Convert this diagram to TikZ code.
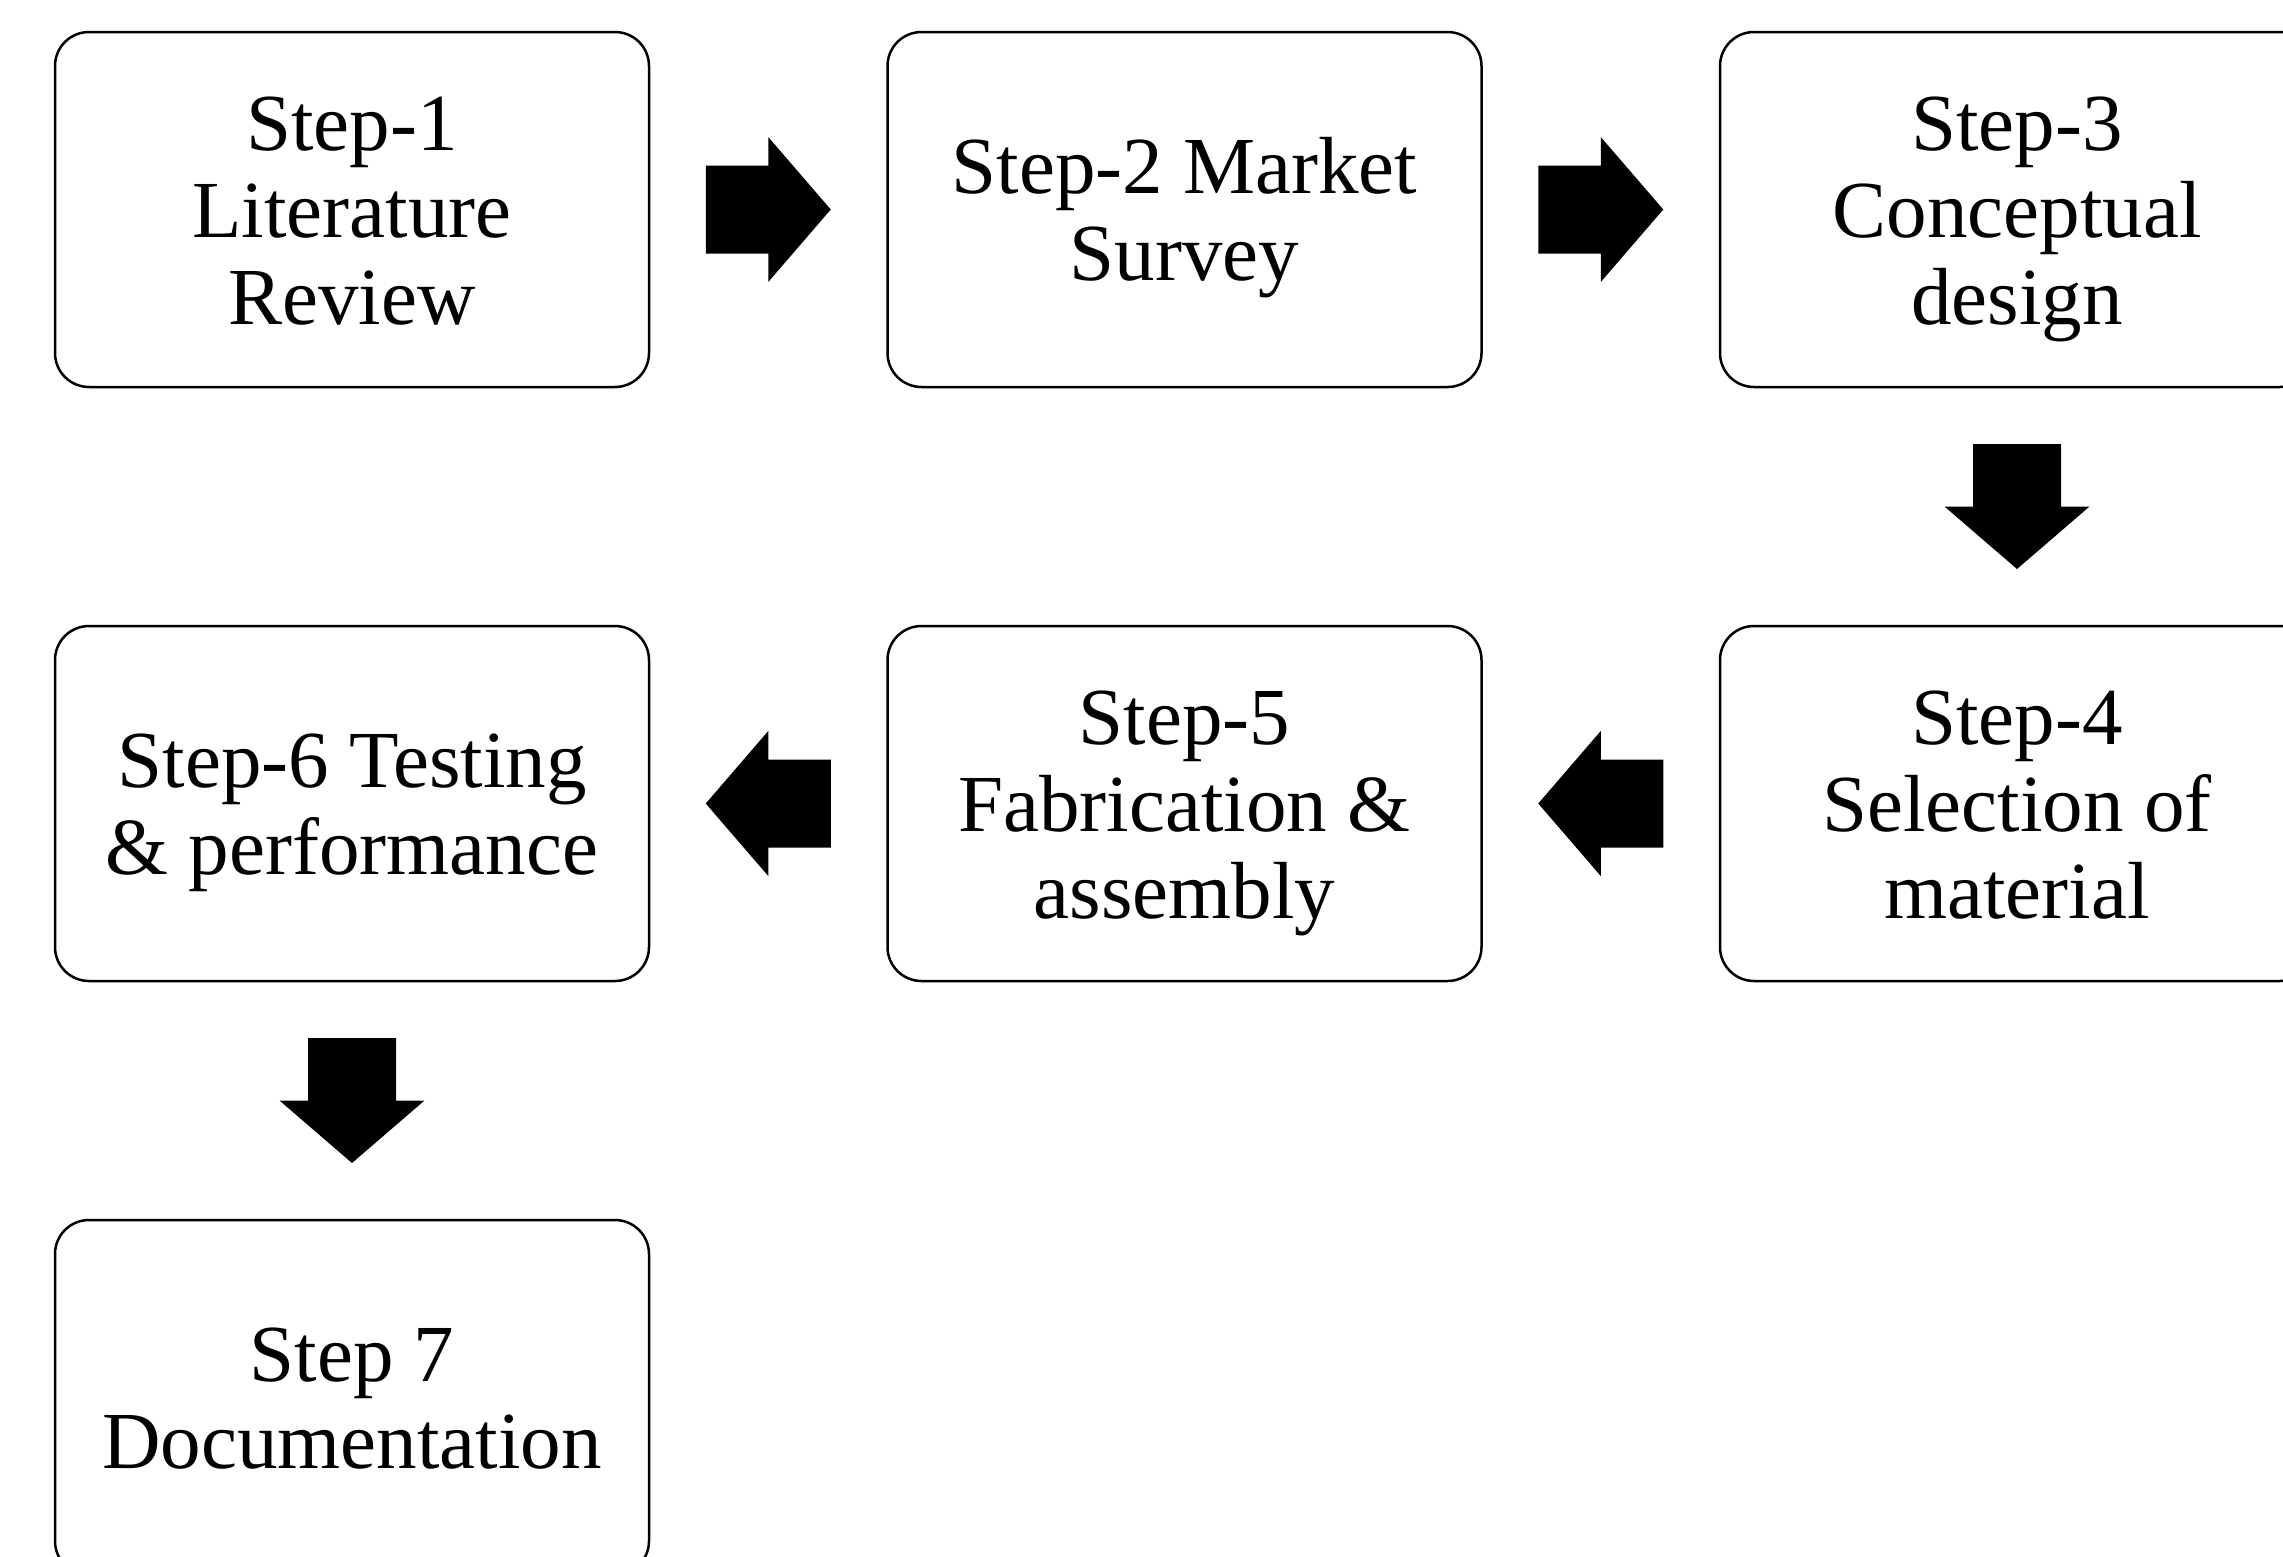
\documentclass[tikz,border=0pt]{standalone}
\usepackage{fontspec}
\setmainfont{Liberation Serif}
\usetikzlibrary{calc}
\newcommand\tstr{\rule{0pt}{75pt}}
\newcommand\bstr{\rule[-20pt]{0pt}{20pt}}
\begin{document}
\begin{tikzpicture}[x=1pt,y=1pt,
  stepbox/.style={draw, line width=2.5pt, rounded corners=34pt, minimum width=594pt, minimum height=355pt, align=center, inner sep=0pt, font=\fontsize{81}{87}\selectfont},
  blockarrow/.pic={\fill[black] (-62.5,-44) -- (0,-44) -- (0,-72.5) -- (62.5,0) -- (0,72.5) -- (0,44) -- (-62.5,44) -- cycle;}]
\useasboundingbox (0,0) rectangle (2283,-1556);
\clip (0,0) rectangle (2283,-1556);
\node[stepbox] (s1) at (352,-209.5) {\tstr Step-1\\Literature\\Review\bstr};
\node[stepbox] (s2) at (1184.5,-209.5) {\tstr Step-2 Market\\Survey\bstr};
\node[stepbox] (s3) at (2017,-209.5) {\tstr Step-3\\Conceptual\\design\bstr};
\node[stepbox] (s4) at (2017,-803.5) {\tstr Step-4\\Selection of\\material\bstr};
\node[stepbox] (s5) at (1184.5,-803.5) {\tstr Step-5\\Fabrication \&\\assembly\bstr};
\node[stepbox] (s6) at (352,-803.5) {\tstr Step-6 Testing\\\& performance\bstr};
\node[stepbox] (s7) at (352,-1397.5) {\tstr Step 7\\Documentation\bstr};
\pic at ($(s1.east)!0.5!(s2.west)$) {blockarrow};
\pic at ($(s2.east)!0.5!(s3.west)$) {blockarrow};
\pic[rotate=-90] at ($(s3.south)!0.5!(s4.north)$) {blockarrow};
\pic[rotate=180] at ($(s4.west)!0.5!(s5.east)$) {blockarrow};
\pic[rotate=180] at ($(s5.west)!0.5!(s6.east)$) {blockarrow};
\pic[rotate=-90] at ($(s6.south)!0.5!(s7.north)$) {blockarrow};
\end{tikzpicture}
\end{document}
